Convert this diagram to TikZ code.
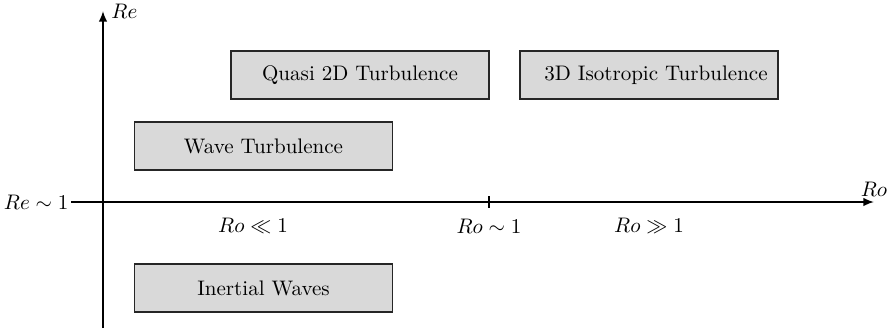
\documentclass[tikz,border=0pt]{standalone}
\usetikzlibrary{arrows.meta}
\begin{document}
\begin{tikzpicture}[x=0.475pt,y=-0.475pt,
  regime/.style={draw=black!85, semithick, fill=gray!30, minimum width=122.5pt, minimum height=22.8pt, inner sep=0pt},
  axis/.style={thick, -{Latex[length=5pt,width=4pt]}},
  lab/.style={inner sep=0pt}]
\useasboundingbox (0,0) rectangle (895,334);
% axes
\coordinate (ystart) at (103,328);
\coordinate (yend) at (103,11);
\coordinate (xstart) at (71,202);
\coordinate (xend) at (874,202);
\coordinate (tickt) at (489,196);
\coordinate (tickb) at (489,208);
\draw[axis] (ystart) -- (yend);
\draw[axis] (xstart) -- (xend);
\draw[thick] (tickt) -- (tickb);
\node[lab, anchor=west, xshift=3.8pt] (relab) at (yend) {$Re$};
\node[lab, anchor=south, yshift=2.5pt] (rolab) at (xend) {$Ro$};
\node[lab, anchor=east, xshift=-1pt] (re1) at (xstart) {$Re\sim 1$};
\node[lab] (roll) at (253,226) {$Ro \ll 1$};
\node[lab] (rosim) at (489,226) {$Ro \sim 1$};
\node[lab] (rogg) at (649,226) {$Ro \gg 1$};
% regimes
\node[regime] (q2d) at (360,75) {Quasi 2D Turbulence};
\node[regime] (iso) at (649,75) {\hspace*{6.6pt}3D Isotropic Turbulence};
\node[regime] (wave) at (263.5,146) {Wave Turbulence};
\node[regime] (inert) at (263.5,288) {Inertial Waves};
\end{tikzpicture}
\end{document}
